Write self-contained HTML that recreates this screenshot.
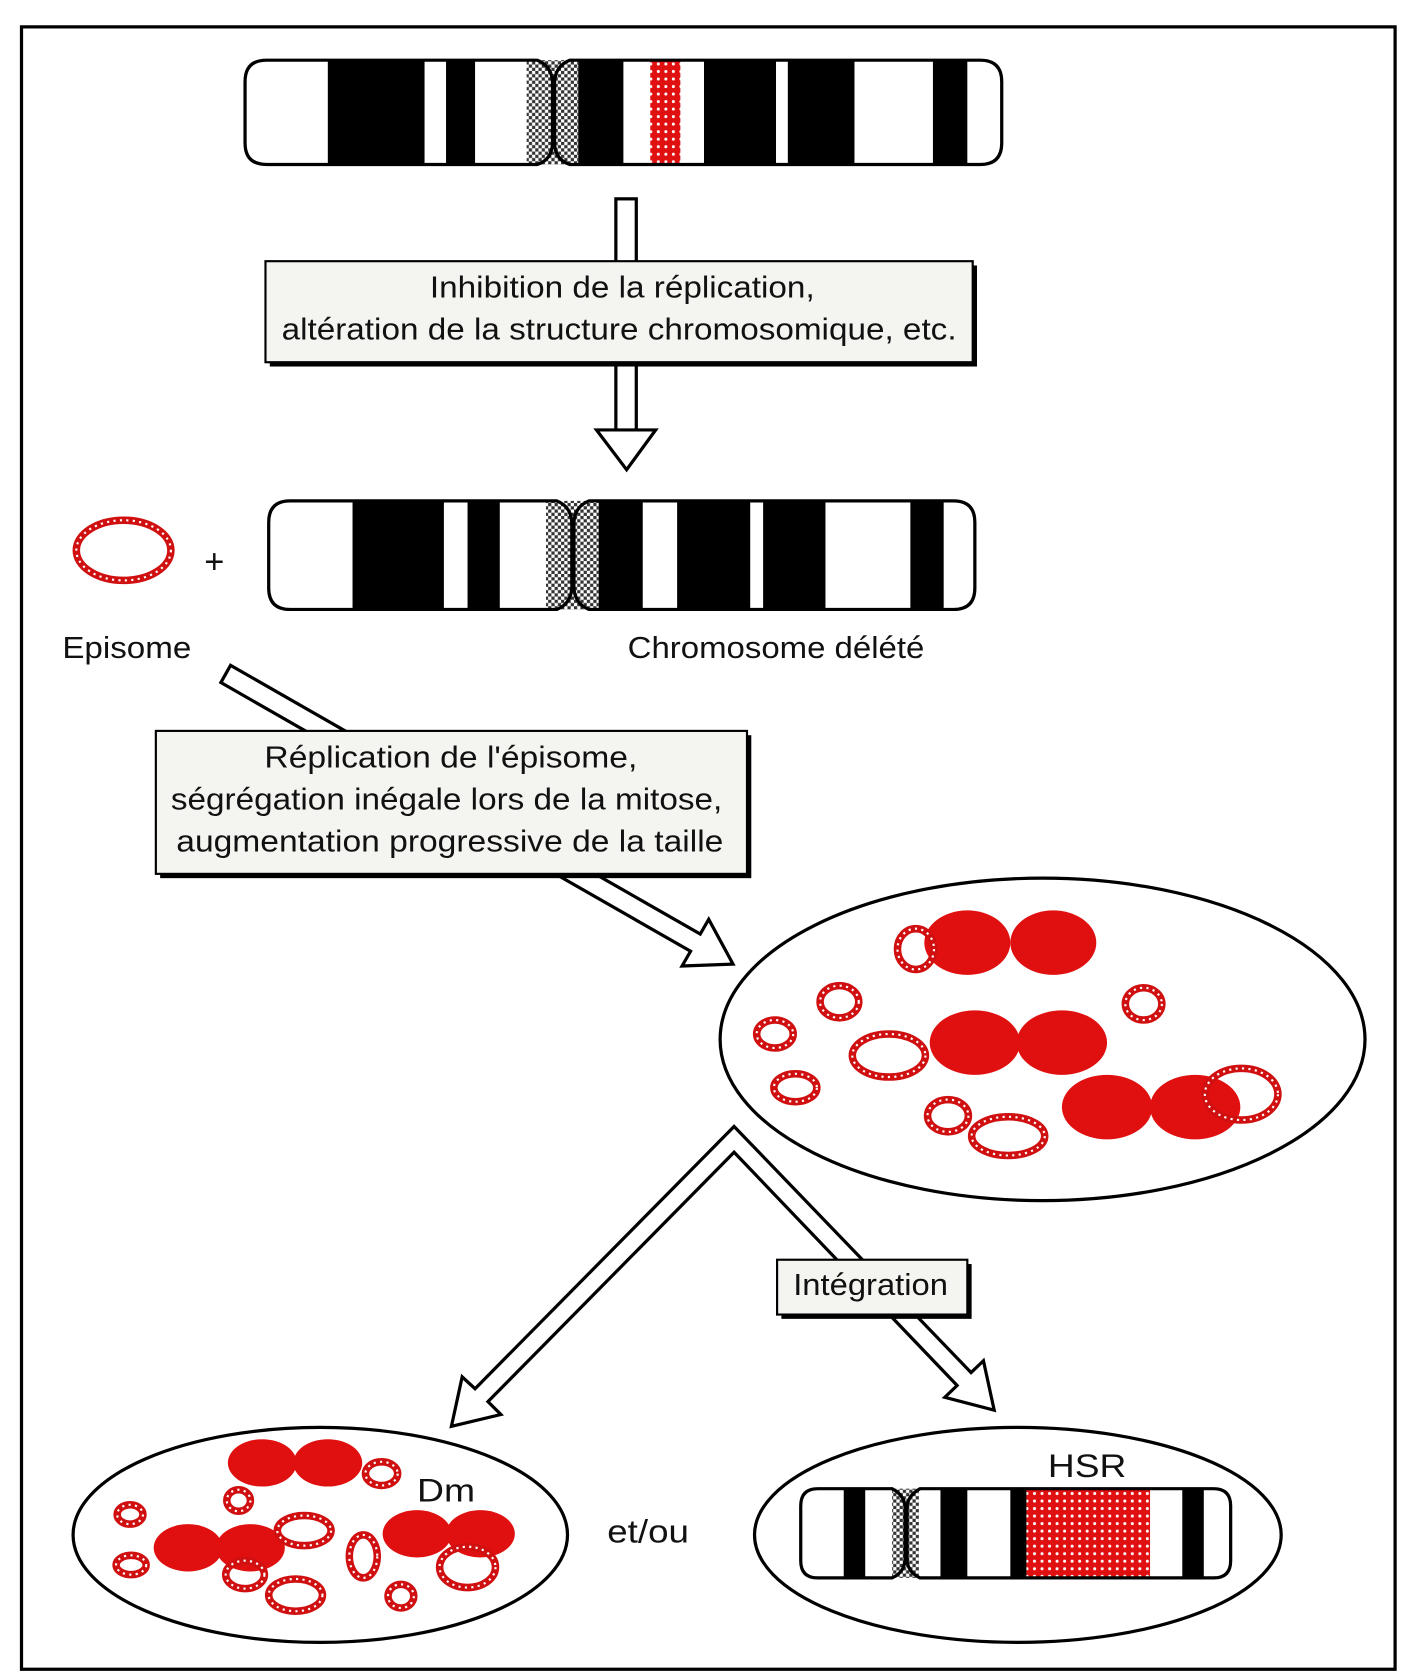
<!DOCTYPE html>
<html><head><meta charset="utf-8"><style>
html,body{margin:0;padding:0;background:#fff}
svg{display:block}
text{font-family:"Liberation Sans",sans-serif;fill:#111}
</style></head><body>
<svg width="1408" height="1680" viewBox="0 0 1310 1563" preserveAspectRatio="none" xmlns="http://www.w3.org/2000/svg">
<defs>
<pattern id="chk" width="6" height="6" patternUnits="userSpaceOnUse"><rect width="6" height="6" fill="#fff"/><rect width="3" height="3" fill="#333"/><rect x="3" y="3" width="3" height="3" fill="#333"/></pattern>
<pattern id="rd" width="7" height="7" patternUnits="userSpaceOnUse"><rect width="7" height="7" fill="#e01010"/><circle cx="3.5" cy="3.5" r="1.4" fill="#fff"/></pattern>
</defs>
<rect x="20" y="25" width="1278" height="1528" fill="none" stroke="#000" stroke-width="3"/>

<!-- chromosome 1 -->
<g stroke="none">
<rect x="228" y="56" width="704" height="97" rx="20" fill="#fff"/>
<rect x="305" y="56" width="90" height="97" fill="#000"/>
<rect x="415" y="56" width="27" height="97" fill="#000"/>
<rect x="490" y="56" width="48" height="97" fill="url(#chk)"/>
<rect x="538" y="56" width="42" height="97" fill="#000"/>
<rect x="605" y="56" width="28" height="97" fill="url(#rd)"/>
<rect x="655" y="56" width="67" height="97" fill="#000"/>
<rect x="733" y="56" width="62" height="97" fill="#000"/>
<rect x="868" y="56" width="32" height="97" fill="#000"/>
</g>
<path d="M248,56 H500 Q515,62 514,80 V130 Q515,148 500,153 H248 Q228,153 228,133 V76 Q228,56 248,56Z" fill="none" stroke="#000" stroke-width="3"/>
<path d="M530,56 H912 Q932,56 932,76 V133 Q932,153 912,153 H530 Q515,148 516,130 V80 Q515,62 530,56Z" fill="none" stroke="#000" stroke-width="3"/>

<!-- arrow 1 -->
<rect x="573" y="185" width="19" height="60" fill="#fff" stroke="#000" stroke-width="3"/>
<rect x="573" y="337" width="19" height="65" fill="#fff" stroke="#000" stroke-width="3"/>
<path d="M555,400 H610 L583,437 Z" fill="#fff" stroke="#000" stroke-width="3"/>
<rect x="251" y="247" width="658" height="94" fill="#000"/>
<rect x="247" y="243" width="658" height="94" fill="#f4f4f0" stroke="#000" stroke-width="2"/>
<text x="400" y="277" font-size="28" textLength="358" lengthAdjust="spacingAndGlyphs">Inhibition de la réplication,</text>
<text x="262" y="316" font-size="28" textLength="628" lengthAdjust="spacingAndGlyphs">altération de la structure chromosomique, etc.</text>

<!-- chromosome 2 -->
<g>
<rect x="250" y="466" width="657" height="101" rx="20" fill="#fff"/>
<rect x="328" y="466" width="85" height="101" fill="#000"/>
<rect x="435" y="466" width="30" height="101" fill="#000"/>
<rect x="508" y="466" width="49" height="101" fill="url(#chk)"/>
<rect x="557" y="466" width="41" height="101" fill="#000"/>
<rect x="630" y="466" width="68" height="101" fill="#000"/>
<rect x="710" y="466" width="58" height="101" fill="#000"/>
<rect x="847" y="466" width="31" height="101" fill="#000"/>
</g>
<path d="M270,466 H518 Q533,472 532,490 V543 Q533,561 518,567 H270 Q250,567 250,547 V486 Q250,466 270,466Z" fill="none" stroke="#000" stroke-width="3"/>
<path d="M548,466 H887 Q907,466 907,486 V547 Q907,567 887,567 H548 Q533,561 534,543 V490 Q533,472 548,466Z" fill="none" stroke="#000" stroke-width="3"/>

<!-- episome -->
<ellipse cx="115" cy="512" rx="44" ry="28" fill="none" stroke="#d01010" stroke-width="7"/>
<ellipse cx="115" cy="512" rx="44" ry="28" fill="none" stroke="#fff" stroke-width="2" stroke-dasharray="2 4"/>
<text x="190" y="533" font-size="32">+</text>
<text x="58" y="612" font-size="28" textLength="120" lengthAdjust="spacingAndGlyphs">Episome</text>
<text x="584" y="612" font-size="28" textLength="276" lengthAdjust="spacingAndGlyphs">Chromosome délété</text>

<!-- diagonal arrow -->
<path d="M205.5,635 L642.5,885 L634.6,898.7 L682,897 L659.4,855.3 L651.5,869 L214.5,619 Z" fill="#fff" stroke="#000" stroke-width="3"/>
<rect x="149" y="684" width="550" height="133" fill="#000"/>
<rect x="145" y="680" width="550" height="133" fill="#f4f4f0" stroke="#000" stroke-width="2"/>
<text x="246" y="714" font-size="28" textLength="347" lengthAdjust="spacingAndGlyphs">Réplication de l'épisome,</text>
<text x="159" y="753" font-size="28" textLength="513" lengthAdjust="spacingAndGlyphs">ségrégation inégale lors de la mitose,</text>
<text x="164" y="792" font-size="28" textLength="509" lengthAdjust="spacingAndGlyphs">augmentation progressive de la taille</text>

<!-- big cell -->
<ellipse cx="970" cy="967" rx="300" ry="150" fill="#fff" stroke="#000" stroke-width="3"/>
<g fill="#e01010">
<ellipse cx="900" cy="877" rx="40" ry="30"/><ellipse cx="980" cy="877" rx="40" ry="30"/>
<ellipse cx="907" cy="970" rx="42" ry="30"/><ellipse cx="988" cy="970" rx="42" ry="30"/>
<ellipse cx="1030" cy="1030" rx="42" ry="30"/><ellipse cx="1112" cy="1030" rx="42" ry="30"/>
<ellipse cx="244" cy="1361" rx="32" ry="22"/><ellipse cx="305" cy="1361" rx="32" ry="22"/>
<ellipse cx="175" cy="1440" rx="32" ry="22"/><ellipse cx="233" cy="1440" rx="32" ry="22"/>
<ellipse cx="388" cy="1427" rx="32" ry="22"/><ellipse cx="447" cy="1427" rx="32" ry="22"/>
</g>

<!-- split arrows -->
<path d="M683,1048 L903.5,1277 L915,1266 L925,1312 L879,1300 L890.5,1289 L683,1072 L454,1304 L466,1316 L420,1327 L430,1281 L442,1292 Z" fill="#fff" stroke="#000" stroke-width="3"/>
<rect x="727" y="1176" width="177" height="51" fill="#000"/>
<rect x="723" y="1172" width="177" height="51" fill="#f4f4f0" stroke="#000" stroke-width="2"/>
<text x="738" y="1205" font-size="28" textLength="144" lengthAdjust="spacingAndGlyphs">Intégration</text>

<!-- bottom-left cell -->
<ellipse cx="298" cy="1428" rx="230" ry="100" fill="none" stroke="#000" stroke-width="3"/>
<text x="388" y="1397" font-size="30" textLength="54" lengthAdjust="spacingAndGlyphs">Dm</text>
<text x="565" y="1435" font-size="30" textLength="76" lengthAdjust="spacingAndGlyphs">et/ou</text>

<!-- rings -->
<g fill="none" stroke="#d01010" stroke-width="7">
<ellipse cx="852" cy="883" rx="17" ry="19"/><ellipse cx="781" cy="932" rx="18" ry="15"/>
<ellipse cx="721" cy="962" rx="17" ry="13"/><ellipse cx="827" cy="982" rx="34" ry="20"/>
<ellipse cx="740" cy="1012" rx="20" ry="13"/><ellipse cx="882" cy="1038" rx="19" ry="15"/>
<ellipse cx="938" cy="1057" rx="34" ry="18"/><ellipse cx="1064" cy="934" rx="17" ry="15"/>
<ellipse cx="1155" cy="1018" rx="34" ry="24"/>
<ellipse cx="355" cy="1371" rx="15" ry="11"/><ellipse cx="222" cy="1396" rx="11" ry="10"/>
<ellipse cx="121" cy="1409" rx="12" ry="9"/><ellipse cx="283" cy="1424" rx="25" ry="14"/>
<ellipse cx="338" cy="1448" rx="13" ry="20"/><ellipse cx="122" cy="1456" rx="14" ry="9"/>
<ellipse cx="228" cy="1465" rx="18" ry="13"/><ellipse cx="275" cy="1484" rx="25" ry="15"/>
<ellipse cx="373" cy="1485" rx="12" ry="11"/><ellipse cx="435" cy="1458" rx="26" ry="19"/>
</g>
<g fill="none" stroke="#fff" stroke-width="2" stroke-dasharray="2 4">
<ellipse cx="852" cy="883" rx="17" ry="19"/><ellipse cx="781" cy="932" rx="18" ry="15"/>
<ellipse cx="721" cy="962" rx="17" ry="13"/><ellipse cx="827" cy="982" rx="34" ry="20"/>
<ellipse cx="740" cy="1012" rx="20" ry="13"/><ellipse cx="882" cy="1038" rx="19" ry="15"/>
<ellipse cx="938" cy="1057" rx="34" ry="18"/><ellipse cx="1064" cy="934" rx="17" ry="15"/>
<ellipse cx="1155" cy="1018" rx="34" ry="24"/>
<ellipse cx="355" cy="1371" rx="15" ry="11"/><ellipse cx="222" cy="1396" rx="11" ry="10"/>
<ellipse cx="121" cy="1409" rx="12" ry="9"/><ellipse cx="283" cy="1424" rx="25" ry="14"/>
<ellipse cx="338" cy="1448" rx="13" ry="20"/><ellipse cx="122" cy="1456" rx="14" ry="9"/>
<ellipse cx="228" cy="1465" rx="18" ry="13"/><ellipse cx="275" cy="1484" rx="25" ry="15"/>
<ellipse cx="373" cy="1485" rx="12" ry="11"/><ellipse cx="435" cy="1458" rx="26" ry="19"/>
</g>

<!-- bottom-right cell -->
<ellipse cx="947" cy="1428" rx="245" ry="100" fill="#fff" stroke="#000" stroke-width="3"/>
<text x="975" y="1374" font-size="30" textLength="73" lengthAdjust="spacingAndGlyphs">HSR</text>
<g>
<rect x="745" y="1385" width="400" height="83" rx="16" fill="#fff"/>
<rect x="785" y="1385" width="20" height="83" fill="#000"/>
<rect x="830" y="1385" width="25" height="83" fill="url(#chk)"/>
<rect x="875" y="1385" width="25" height="83" fill="#000"/>
<rect x="940" y="1385" width="15" height="83" fill="#000"/>
<rect x="955" y="1385" width="115" height="83" fill="url(#rd)"/>
<rect x="1100" y="1385" width="20" height="83" fill="#000"/>
</g>
<path d="M761,1385 H830 Q843,1392 842,1405 V1448 Q843,1462 830,1468 H761 Q745,1468 745,1452 V1401 Q745,1385 761,1385Z" fill="none" stroke="#000" stroke-width="3"/>
<path d="M856,1385 H1129 Q1145,1385 1145,1401 V1452 Q1145,1468 1129,1468 H856 Q843,1462 844,1448 V1405 Q843,1392 856,1385Z" fill="none" stroke="#000" stroke-width="3"/>
</svg>
</body></html>
